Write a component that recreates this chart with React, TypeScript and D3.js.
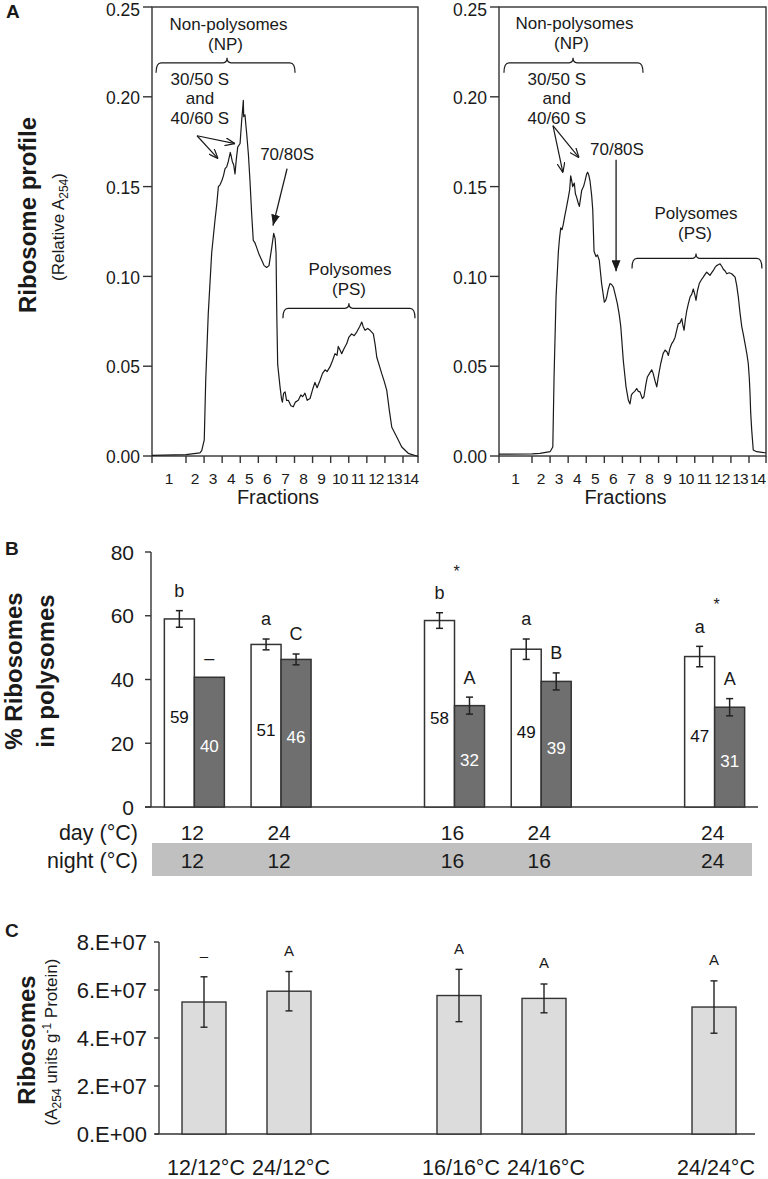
import React from "react";
import * as d3 from "d3";

// ---------- DATA ----------
const fractionBounds = [0, 1, 2, 3, 4, 5, 6, 7, 8, 9, 10, 11, 12, 13, 14];
const fractionLabels = ["1", "2", "3", "4", "5", "6", "7", "8", "9", "10", "11", "12", "13", "14"];
const profileTicks = [0, 0.05, 0.1, 0.15, 0.2, 0.25];

// [fraction, relative A254]
const profileLeft: [number, number][] = [
  [0, 0.0003], [1, 0.0008], [1.77, 0.0017], [1.87, 0.003], [2.01, 0.009], [2.09, 0.042], [2.23, 0.079],
  [2.42, 0.113], [2.6, 0.131], [2.7, 0.14], [2.79, 0.15], [2.88, 0.151], [2.97, 0.153], [3.07, 0.156], [3.16, 0.16],
  [3.25, 0.161], [3.34, 0.164], [3.45, 0.169], [3.5, 0.167], [3.56, 0.164], [3.64, 0.162], [3.71, 0.157], [3.78, 0.165],
  [3.86, 0.172], [3.99, 0.174], [4.08, 0.187], [4.14, 0.194], [4.17, 0.198], [4.19, 0.189], [4.26, 0.19], [4.36, 0.179],
  [4.45, 0.168], [4.54, 0.153], [4.63, 0.135], [4.72, 0.12], [4.8, 0.119], [4.91, 0.116], [5.05, 0.112],
  [5.19, 0.109], [5.32, 0.106], [5.46, 0.105], [5.59, 0.106], [5.74, 0.116], [5.85, 0.124], [5.93, 0.121],
  [5.98, 0.113], [6.02, 0.079], [6.07, 0.051], [6.2, 0.0385], [6.28, 0.032], [6.33, 0.03], [6.4, 0.035],
  [6.48, 0.0357], [6.56, 0.031], [6.66, 0.031], [6.8, 0.028], [6.93, 0.0274], [7.05, 0.03], [7.21, 0.031],
  [7.35, 0.034], [7.45, 0.033], [7.58, 0.035], [7.7, 0.031], [7.86, 0.032], [8.0, 0.037], [8.13, 0.041],
  [8.25, 0.038], [8.41, 0.042], [8.55, 0.046], [8.69, 0.048], [8.8, 0.047], [8.96, 0.0496], [9.1, 0.053],
  [9.24, 0.057], [9.35, 0.056], [9.42, 0.061], [9.52, 0.059], [9.61, 0.057], [9.75, 0.06], [9.89, 0.0626],
  [10.0, 0.066], [10.16, 0.068], [10.3, 0.067], [10.44, 0.069], [10.6, 0.072], [10.72, 0.0746], [10.8, 0.072],
  [10.9, 0.07], [11.05, 0.071], [11.18, 0.07], [11.36, 0.068], [11.46, 0.062], [11.55, 0.055], [11.7, 0.05],
  [11.82, 0.046], [11.95, 0.042], [12.1, 0.0367], [12.25, 0.025], [12.38, 0.016], [12.65, 0.0107],
  [12.93, 0.005], [13.35, 0.0015], [13.91, 0.0], [14, 0.0],
];

const profileRight: [number, number][] = [
  [0, 0.001], [1, 0.0012], [1.44, 0.0015], [2.0, 0.0024], [2.15, 0.005], [2.22, 0.044], [2.33, 0.0885],
  [2.46, 0.114], [2.52, 0.121], [2.59, 0.127], [2.66, 0.126], [2.73, 0.129], [2.8, 0.133], [2.88, 0.137],
  [3.01, 0.144], [3.08, 0.148], [3.14, 0.156], [3.2, 0.153], [3.25, 0.15], [3.34, 0.152], [3.4, 0.146],
  [3.47, 0.144], [3.55, 0.141], [3.62, 0.139], [3.75, 0.148], [3.85, 0.15], [3.93, 0.153], [4.02, 0.157],
  [4.08, 0.158], [4.15, 0.156], [4.21, 0.153], [4.3, 0.145], [4.36, 0.137], [4.43, 0.114], [4.54, 0.111],
  [4.62, 0.112], [4.72, 0.109], [4.85, 0.096], [5.0, 0.0857], [5.07, 0.0865], [5.13, 0.0885], [5.22, 0.093],
  [5.31, 0.096], [5.4, 0.0955], [5.5, 0.094], [5.6, 0.09], [5.72, 0.0848], [5.82, 0.079], [5.91, 0.072],
  [6.05, 0.053], [6.2, 0.0385], [6.33, 0.031], [6.42, 0.029], [6.5, 0.034], [6.57, 0.035], [6.68, 0.036],
  [6.79, 0.0376], [6.88, 0.036], [6.97, 0.0357], [7.1, 0.032], [7.19, 0.033], [7.3, 0.04], [7.38, 0.044],
  [7.5, 0.046], [7.62, 0.048], [7.7, 0.046], [7.8, 0.042], [7.9, 0.0385], [8.0, 0.045], [8.12, 0.0515],
  [8.25, 0.057], [8.36, 0.059], [8.46, 0.058], [8.54, 0.056], [8.63, 0.06], [8.73, 0.0626], [8.82, 0.064],
  [8.91, 0.066], [9.0, 0.07], [9.09, 0.0737], [9.18, 0.074], [9.28, 0.0765], [9.34, 0.073], [9.41, 0.07],
  [9.48, 0.076], [9.56, 0.081], [9.65, 0.085], [9.74, 0.0885], [9.83, 0.09], [9.92, 0.093], [10.0, 0.09],
  [10.07, 0.0867], [10.15, 0.092], [10.25, 0.096], [10.36, 0.098], [10.47, 0.0996], [10.56, 0.101],
  [10.66, 0.1024], [10.75, 0.1015], [10.84, 0.1006], [10.93, 0.102], [11.03, 0.1033], [11.12, 0.105],
  [11.21, 0.106], [11.3, 0.1065], [11.4, 0.107], [11.5, 0.1055], [11.58, 0.104], [11.68, 0.103],
  [11.77, 0.1015], [11.9, 0.102], [12.04, 0.1015], [12.14, 0.1005], [12.23, 0.0996], [12.32, 0.095],
  [12.41, 0.0885], [12.5, 0.08], [12.6, 0.072], [12.7, 0.067], [12.78, 0.0626], [12.88, 0.057],
  [12.96, 0.0515], [13.02, 0.043], [13.06, 0.035], [13.1, 0.024], [13.16, 0.0144], [13.25, 0.0033],
  [13.45, 0.0024], [13.94, 0.0018], [14, 0.0018],
];

const treatments = ["12/12°C", "24/12°C", "16/16°C", "24/16°C", "24/24°C"];
const treatmentSlots = [0, 1, 3, 4, 6];
const slotCount = [0, 1, 2, 3, 4, 5, 6];
const dayTemps = ["12", "24", "16", "24", "24"];
const nightTemps = ["12", "12", "16", "16", "24"];

const pctLight = [59, 51, 58.5, 49.5, 47.2];
const pctLightErr = [2.6, 1.7, 2.45, 3.2, 3.2];
const pctLightLabel = ["59", "51", "58", "49", "47"];
const pctLightLetter = ["b", "a", "b", "a", "a"];
const pctStar = [false, false, true, false, true];
const pctDark = [40.7, 46.3, 31.8, 39.4, 31.3];
const pctDarkErr = [0, 1.7, 2.67, 2.67, 2.7];
const pctDarkLabel = ["40", "46", "32", "39", "31"];
const pctDarkLetter = ["–", "C", "A", "B", "A"];
const pctTicks = [0, 20, 40, 60, 80];

const riboTotal = [5.5e7, 5.95e7, 5.77e7, 5.65e7, 5.29e7];
const riboErr = [1.05e7, 0.82e7, 1.09e7, 0.6e7, 1.09e7];
const riboLetter = ["–", "A", "A", "A", "A"];
const riboTicks = [0, 2e7, 4e7, 6e7, 8e7];

// annotation anchors, in data units (fraction, A254)
const annLeft = {
  np: { f: 3.35, v: 0.2406 },
  npBracket: { f0: 0.12, f1: 7.03, fc: 3.27, v: 0.2189 },
  sub: { f: 1.77, v: 0.21 },
  subArrow: { from: [1.61, 0.1783], to: [[2.77, 0.1656], [3.71, 0.1739]] },
  mono: { f: 6.59, v: 0.1683 },
  monoArrow: { from: [6.59, 0.16], to: [5.81, 0.1283] },
  ps: { f: 10.07, v: 0.1044 },
  psBracket: { f0: 6.36, f1: 13.8, fc: 10.01, v: 0.0822 },
};
const annRight = {
  np: { f: 3.35, v: 0.2411 },
  npBracket: { f0: 0.15, f1: 7.14, fc: 3.27, v: 0.2189 },
  sub: { f: 2.37, v: 0.21 },
  subArrow: { from: [2.16, 0.1839], to: [[2.71, 0.1578], [3.6, 0.1661]] },
  mono: { f: 5.7, v: 0.1711 },
  monoArrow: { from: [5.65, 0.165], to: [5.65, 0.1028] },
  ps: { f: 10.07, v: 0.1356 },
  psBracket: { f0: 6.53, f1: 13.76, fc: 10.07, v: 0.11 },
};

// ---------- STYLE ----------
const FONT = "'Liberation Sans', Arial, Helvetica, sans-serif";
const INK = "#1a1a1a";
const AXIS = "#333";

function bracketPath(x0: number, x1: number, xc: number, y: number) {
  const r = 5;
  return `M${x0},${y + 10} Q${x0},${y} ${x0 + r},${y} L${xc - 4},${y} Q${xc},${y} ${xc},${y - 5} Q${xc},${y} ${xc + 4},${y} L${x1 - r},${y} Q${x1},${y} ${x1},${y + 10}`;
}

function ProfilePanel({ data, range, ann, id }: any) {
  const x = d3.scaleLinear().domain([0, 1, 13, 14]).range(range);
  const y = d3.scaleLinear().domain([0, 0.25]).range([456, 7]);
  const line = d3.line<[number, number]>().x((d) => x(d[0])).y((d) => y(d[1]));
  const [x0, x1] = [range[0], range[3]];
  const P = (p: number[]) => [x(p[0]), y(p[1])];
  const sa = P(ann.subArrow.from);
  const ma0 = P(ann.monoArrow.from);
  const ma1 = P(ann.monoArrow.to);
  const tickFs = 17.5;
  return (
    <g>
      <defs>
        <marker id={`open-${id}`} viewBox="0 0 10 8" refX="10" refY="4" markerWidth="10" markerHeight="8" markerUnits="userSpaceOnUse" orient="auto">
          <path d="M0,0 L10,4 L0,8" fill="none" stroke={INK} strokeWidth={1.2} />
        </marker>
        <marker id={`solid-${id}`} viewBox="0 0 10 8" refX="10" refY="4" markerWidth="11" markerHeight="9" markerUnits="userSpaceOnUse" orient="auto">
          <path d="M0,0 L10,4 L0,8 Z" fill={INK} />
        </marker>
      </defs>
      <rect x={x0} y={y(0.25)} width={x1 - x0} height={y(0) - y(0.25)} fill="none" stroke={AXIS} strokeWidth={1.4} />
      {profileTicks.map((t) => (
        <g key={t}>
          <line x1={x0 - 9} x2={x0} y1={y(t)} y2={y(t)} stroke={AXIS} strokeWidth={1.4} />
          <text x={x0 - 12} y={Math.max(y(t) + 0.8 + 0.36 * tickFs, 0.93 * tickFs)} textAnchor="end" fontSize={tickFs} fill={INK}>{t.toFixed(2)}</text>
        </g>
      ))}
      {fractionBounds.map((b) => (
        <line key={b} x1={x(b)} x2={x(b)} y1={y(0)} y2={y(0) + 7} stroke={AXIS} strokeWidth={1.4} />
      ))}
      {fractionLabels.map((l, i) => (
        <text key={l} x={(x(fractionBounds[i]) + x(fractionBounds[i + 1])) / 2} y={478} dy="0.36em" textAnchor="middle" fontSize={15.5} letterSpacing={l.length > 1 ? -1 : 0} fill={INK}>{l}</text>
      ))}
      <text x={(x0 + x1) / 2 - 7} y={497} dy="0.36em" textAnchor="middle" fontSize={20} fill={INK}>Fractions</text>
      <path d={line(data) || ""} fill="none" stroke={INK} strokeWidth={1.2} strokeLinejoin="round" />

      {/* annotations */}
      <g fontSize={17} fill={INK} textAnchor="middle">
        <text x={x(ann.np.f)} y={y(ann.np.v)} dy="0.36em">Non-polysomes</text>
        <text x={x(ann.np.f) - 3} y={y(ann.np.v) + 20} dy="0.36em">(NP)</text>
        <path d={bracketPath(x(ann.npBracket.f0), x(ann.npBracket.f1), x(ann.npBracket.fc), y(ann.npBracket.v))} fill="none" stroke={INK} strokeWidth={1.2} />
        {["30/50 S", "and", "40/60 S"].map((t, i) => (
          <text key={t} x={x(ann.sub.f)} y={y(ann.sub.v) + i * 19.5} dy="0.36em">{t}</text>
        ))}
        {ann.subArrow.to.map((p: number[], i: number) => (
          <line key={i} x1={sa[0]} y1={sa[1]} x2={x(p[0])} y2={y(p[1])} stroke={INK} strokeWidth={1.2} markerEnd={`url(#open-${id})`} />
        ))}
        <text x={x(ann.mono.f)} y={y(ann.mono.v)} dy="0.36em">70/80S</text>
        <line x1={ma0[0]} y1={ma0[1]} x2={ma1[0]} y2={ma1[1]} stroke={INK} strokeWidth={1.3} markerEnd={`url(#solid-${id})`} />
        <text x={x(ann.ps.f)} y={y(ann.ps.v)} dy="0.36em">Polysomes</text>
        <text x={x(ann.ps.f) - 1} y={y(ann.ps.v) + 20.5} dy="0.36em">(PS)</text>
        <path d={bracketPath(x(ann.psBracket.f0), x(ann.psBracket.f1), x(ann.psBracket.fc), y(ann.psBracket.v))} fill="none" stroke={INK} strokeWidth={1.2} />
      </g>
    </g>
  );
}

function PanelB() {
  const x = d3.scaleBand<number>().domain(slotCount).range([151, 758]);
  const y = d3.scaleLinear().domain([0, 80]).range([807, 552]);
  const bw = 30;
  const cx = (i: number) => (x(treatmentSlots[i]) as number) + x.bandwidth() / 2;
  const errBar = (xc: number, v: number, e: number, key: string) =>
    e > 0 ? (
      <g key={key} stroke="#222" strokeWidth={1.5}>
        <line x1={xc} x2={xc} y1={y(v + e)} y2={y(v - e)} />
        <line x1={xc - 3.5} x2={xc + 3.5} y1={y(v + e)} y2={y(v + e)} />
        <line x1={xc - 3.5} x2={xc + 3.5} y1={y(v - e)} y2={y(v - e)} />
      </g>
    ) : null;
  return (
    <g>
      <line x1={151} x2={151} y1={y(80)} y2={y(0)} stroke={AXIS} strokeWidth={1.4} />
      <line x1={145} x2={758} y1={y(0)} y2={y(0)} stroke={AXIS} strokeWidth={1.4} />
      {pctTicks.map((t) => (
        <g key={t}>
          <line x1={145} x2={151} y1={y(t)} y2={y(t)} stroke={AXIS} strokeWidth={1.4} />
          <text x={134} y={y(t)} dy="0.36em" textAnchor="end" fontSize={21} fill={INK}>{t}</text>
        </g>
      ))}
      {treatments.map((tr, i) => {
        const c = cx(i);
        const lTop = y(pctLight[i] + pctLightErr[i]);
        const dTop = y(pctDark[i] + pctDarkErr[i]);
        return (
          <g key={tr}>
            <rect x={c - bw} y={y(pctLight[i])} width={bw} height={y(0) - y(pctLight[i])} fill="#fff" stroke="#333" strokeWidth={1.5} />
            <rect x={c} y={y(pctDark[i])} width={bw} height={y(0) - y(pctDark[i])} fill="#6f6f6f" stroke="#333" strokeWidth={1.5} />
            {errBar(c - bw / 2, pctLight[i], pctLightErr[i], "l")}
            {errBar(c + bw / 2, pctDark[i], pctDarkErr[i], "d")}
            <text x={c - bw / 2} y={(y(pctLight[i]) + y(0)) / 2 + 4} dy="0.36em" textAnchor="middle" fontSize={17} fill="#111">{pctLightLabel[i]}</text>
            <text x={c + bw / 2} y={(y(pctDark[i]) + y(0)) / 2 + 4} dy="0.36em" textAnchor="middle" fontSize={17} fill="#fff">{pctDarkLabel[i]}</text>
            <text x={c - bw / 2} y={lTop - 20} dy="0.36em" textAnchor="middle" fontSize={18} fill={INK}>{pctLightLetter[i]}</text>
            <text x={c + bw / 2} y={dTop - 20} dy="0.36em" textAnchor="middle" fontSize={18} fill={INK}>{pctDarkLetter[i]}</text>
            {pctStar[i] ? (
              <text x={c + 2} y={lTop - 44} dy="0.5em" textAnchor="middle" fontSize={16} fill={INK}>*</text>
            ) : null}
          </g>
        );
      })}
      <rect x={152} y={843} width={600} height={33} fill="#c0c0c0" />
      <text x={138} y={832} dy="0.36em" textAnchor="end" fontSize={21.5} fill={INK}>day (°C)</text>
      <text x={138} y={860} dy="0.36em" textAnchor="end" fontSize={21.5} fill={INK}>night (°C)</text>
      {treatments.map((tr, i) => (
        <g key={tr}>
          <text x={cx(i) - 2} y={832} dy="0.36em" textAnchor="middle" fontSize={21} fill={INK}>{dayTemps[i]}</text>
          <text x={cx(i) - 2} y={860} dy="0.36em" textAnchor="middle" fontSize={21} fill={INK}>{nightTemps[i]}</text>
        </g>
      ))}
    </g>
  );
}

function sciFmt(v: number) {
  if (v === 0) return "0.E+00";
  const e = Math.floor(Math.log10(v));
  const m = Math.round(v / Math.pow(10, e));
  return `${m}.E+${String(e).padStart(2, "0")}`;
}

function PanelC() {
  const x = d3.scaleBand<number>().domain(slotCount).range([161.5, 756.5]);
  const y = d3.scaleLinear().domain([0, 8e7]).range([1134, 942]);
  const bw = 44;
  const cx = (i: number) => (x(treatmentSlots[i]) as number) + x.bandwidth() / 2;
  return (
    <g>
      <line x1={159} x2={159} y1={y(8e7)} y2={y(0)} stroke={AXIS} strokeWidth={1.4} />
      <line x1={155} x2={755} y1={y(0)} y2={y(0)} stroke={AXIS} strokeWidth={1.4} />
      {riboTicks.map((t) => (
        <g key={t}>
          <line x1={154} x2={159} y1={y(t)} y2={y(t)} stroke={AXIS} strokeWidth={1.4} />
          <text x={147} y={y(t)} dy="0.36em" textAnchor="end" fontSize={22} fill={INK}>{sciFmt(t)}</text>
        </g>
      ))}
      {treatments.map((tr, i) => {
        const c = cx(i);
        const top = y(riboTotal[i] + riboErr[i]);
        const bot = y(riboTotal[i] - riboErr[i]);
        return (
          <g key={tr}>
            <rect x={c - bw / 2} y={y(riboTotal[i])} width={bw} height={y(0) - y(riboTotal[i])} fill="#dcdcdc" stroke="#333" strokeWidth={1.4} />
            <g stroke="#222" strokeWidth={1.4}>
              <line x1={c} x2={c} y1={top} y2={bot} />
              <line x1={c - 3.5} x2={c + 3.5} y1={top} y2={top} />
              <line x1={c - 3.5} x2={c + 3.5} y1={bot} y2={bot} />
            </g>
            <text x={c} y={top - 21} dy="0.36em" textAnchor="middle" fontSize={15} fill={INK}>{riboLetter[i]}</text>
            <text x={c + 2} y={1167} dy="0.36em" textAnchor="middle" fontSize={21.5} fill={INK}>{tr}</text>
          </g>
        );
      })}
    </g>
  );
}

export default function App() {
  return (
    <svg width={768} height={1179} style={{ position: "absolute", left: 0, top: 0, background: "#fff" }} fontFamily={FONT}>
      <rect width={768} height={1179} fill="#fff" />
      {/* panel letters */}
      <text x={6} y={18} fontSize={19} fontWeight="bold" fill={INK}>A</text>
      <text x={5} y={555} fontSize={19} fontWeight="bold" fill={INK}>B</text>
      <text x={5} y={937} fontSize={19} fontWeight="bold" fill={INK}>C</text>

      {/* Panel A titles */}
      <text transform="translate(36,215) rotate(-90)" textAnchor="middle" fontSize={24} fontWeight="bold" fill={INK}>Ribosome profile</text>
      <text transform="translate(64,227) rotate(-90)" textAnchor="middle" fontSize={17} fill={INK}>
        (Relative A<tspan fontSize={12} dy={4}>254</tspan><tspan dy={-4}>)</tspan>
      </text>
      <ProfilePanel data={profileLeft} range={[152, 186, 403, 418]} ann={annLeft} id="L" />
      <ProfilePanel data={profileRight} range={[499, 532, 749, 766]} ann={annRight} id="R" />

      {/* Panel B titles */}
      <text transform="translate(22,671) rotate(-90)" textAnchor="middle" fontSize={24} fontWeight="bold" fill={INK}>% Ribosomes</text>
      <text transform="translate(54,671) rotate(-90)" textAnchor="middle" fontSize={24} fontWeight="bold" fill={INK}>in polysomes</text>
      <PanelB />

      {/* Panel C titles */}
      <text transform="translate(35,1040) rotate(-90)" textAnchor="middle" fontSize={24} fontWeight="bold" fill={INK}>Ribosomes</text>
      <text transform="translate(57,1042) rotate(-90)" textAnchor="middle" fontSize={17} fill={INK}>
        (A<tspan fontSize={12} dy={4}>254</tspan><tspan dy={-4}> units g</tspan><tspan fontSize={12} dy={-6}>-1</tspan><tspan dy={6}> Protein)</tspan>
      </text>
      <PanelC />
    </svg>
  );
}
